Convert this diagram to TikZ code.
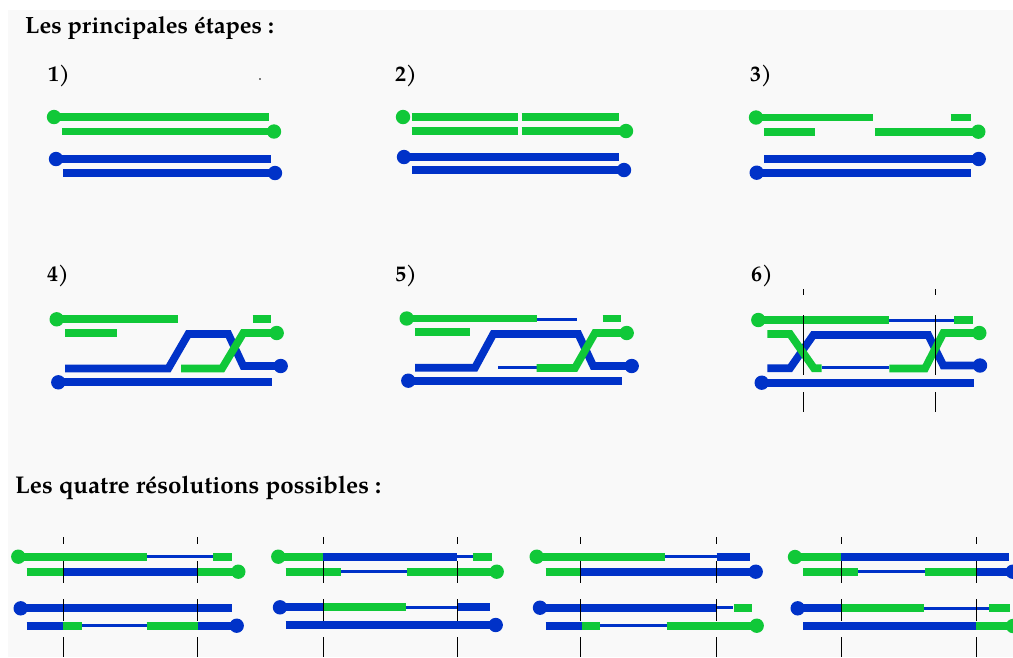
\documentclass[tikz,border=0pt]{standalone}
\usepackage{fontspec}
\setmainfont{TeX Gyre Pagella}
\definecolor{grn}{RGB}{16,200,56}
\definecolor{blu}{RGB}{0,50,200}
\definecolor{bg}{RGB}{249,249,249}
% strand end dots
\newcommand\GDot[1]{\fill[grn] (#1) circle (7.2pt);}
\newcommand\BDot[1]{\fill[blu] (#1) circle (7.2pt);}
% vertical cut marks of the final resolutions
\newcommand\CutMark[1]{%
  \draw[cut] (#1,537) -- (#1,544);
  \draw[cut] (#1,561) -- (#1,583);
  \draw[cut] (#1,599) -- (#1,621);
  \draw[cut] (#1,637) -- (#1,657);}
\begin{document}
\begin{tikzpicture}[x=1pt,y=-1pt,
  gs/.style={draw=grn,line width=7.7pt},
  bs/.style={draw=blu,line width=7.7pt},
  tb/.style={draw=blu,line width=3pt},
  cut/.style={draw=black,line width=0.9pt},
  title/.style={anchor=base west,inner sep=0pt,font=\fontsize{23.5}{28}\selectfont\bfseries},
  num/.style={anchor=base west,inner sep=0pt,font=\fontsize{22}{26}\selectfont\bfseries}]

\useasboundingbox (0,0) rectangle (1013,657);
\fill[white] (0,0) rectangle (1013,657);
\fill[bg] (8,10) rectangle (1013,657);

% titles and step numbers
\node[title] (t1) at (25,33.3) {Les principales étapes :};
\node[title,font=\fontsize{24.2}{29}\selectfont\bfseries] (t2) at (15,493.3) {Les quatre résolutions possibles :};
\node[num] (n1) at (48,81) {1)};
\node[num] (n2) at (395,81) {2)};
\node[num] (n3) at (750,81) {3)};
\node[num] (n4) at (47,281) {4)};
\node[num] (n5) at (395,281) {5)};
\node[num] (n6) at (751,281) {6)};
\fill[black] (260,79) circle (0.9pt);

% ---- step 1
\draw[gs] (54,117) -- (269,117); \GDot{54,117}
\draw[gs] (62,131.5) -- (274,131.5); \GDot{274,131.5}
\draw[bs] (56,159) -- (271,159); \BDot{56,159}
\draw[bs] (63,173) -- (275,173); \BDot{275,173}

% ---- step 2
\draw[gs] (411.7,117) -- (517.7,117);
\draw[gs] (521.7,117) -- (618.7,117); \GDot{403,117}
\draw[gs] (411.7,131) -- (517.7,131);
\draw[gs] (521.7,131) -- (626,131); \GDot{626,131}
\draw[bs] (404,157) -- (619,157); \BDot{404,157}
\draw[bs] (412,170) -- (624,170); \BDot{624,170}

% ---- step 3
\draw[gs] (756,117.5) -- (872.7,117.5); \GDot{756,117.5}
\draw[gs] (950.7,117.5) -- (971.3,117.5);
\draw[gs] (764.3,131.7) -- (815.3,131.7);
\draw[gs] (875,131.7) -- (978.3,131.7); \GDot{978.3,131.7}
\draw[bs] (764.3,159) -- (978.7,159); \BDot{978.7,159}
\draw[bs] (756.7,172.7) -- (971.3,172.7); \BDot{756.7,172.7}

% ---- step 4
\draw[gs] (56.7,319.3) -- (178.3,319.3); \GDot{56.7,319.3}
\draw[gs] (252.7,319.3) -- (271.3,319.3);
\draw[gs] (65,333) -- (116.7,333);
\draw[bs] (65,368.5) -- (168.3,368.5) -- (188.3,334) -- (228.3,334)
  -- (243.3,366) -- (280.7,366); \BDot{280.7,366}
\draw[gs] (181,368.5) -- (222,368.5) -- (243.3,333) -- (276.7,333); \GDot{276.7,333}
\draw[bs] (58.3,382.3) -- (272.3,382.3); \BDot{58.3,382.3}

% ---- step 5
\draw[gs] (406.7,318.5) -- (536.7,318.5); \GDot{406.7,318.5}
\draw[tb] (536.7,319) -- (576.7,319);
\draw[gs] (602.7,318.5) -- (621.3,318.5);
\draw[gs] (415,332) -- (470,332);
\draw[bs] (415,367.7) -- (475,367.7) -- (493.3,334) -- (578.3,334)
  -- (593.3,366) -- (631.7,366); \BDot{631.7,366}
\draw[tb] (498.3,367.7) -- (536.7,367.7);
\draw[gs] (536.7,368) -- (575,368) -- (595,333) -- (626.7,333); \GDot{626.7,333}
\draw[bs] (408.3,380.7) -- (622.3,380.7); \BDot{408.3,380.7}

% ---- step 6
\draw[gs] (758.3,320.3) -- (889.3,320.3); \GDot{758.3,320}
\draw[tb] (889.3,320.3) -- (954,320.3);
\draw[gs] (954,320.3) -- (973.3,320.3);
\draw[bs] (767.3,368.3) -- (790,368.3) -- (813.3,335) -- (928.3,335)
  -- (943.3,365.5) -- (980,365.5); \BDot{980,365.5}
\draw[gs] (767.3,334) -- (790,334) -- (814,368.3) -- (821.7,368.3);
\draw[tb] (821.7,367.7) -- (889.3,367.7);
\draw[gs] (889.3,368.5) -- (925,368.5) -- (943.3,333) -- (979.3,333); \GDot{979.3,333}
\draw[bs] (761.7,382.7) -- (974.3,382.7); \BDot{761.7,382.7}
\foreach \x in {803.3,935} {
  \draw[cut] (\x,289) -- (\x,295);
  \draw[cut] (\x,315) -- (\x,375);
  \draw[cut] (\x,392) -- (\x,412);}

% ---- resolution A
\draw[gs] (18.3,556.7) -- (146.7,556.7); \GDot{18.3,556.7}
\draw[tb] (146.7,556.7) -- (213.3,556.7);
\draw[gs] (213.3,556.7) -- (231.7,556.7);
\draw[gs] (26.7,571.7) -- (63.3,571.7);
\draw[bs] (63.3,571.7) -- (197.7,571.7);
\draw[gs] (197.7,571.7) -- (238.3,571.7); \GDot{238.3,571.7}
\draw[bs] (20.7,608.3) -- (231.7,608.3); \BDot{20.7,608.3}
\draw[bs] (26.7,625.7) -- (63.3,625.7);
\draw[gs] (63.3,625.7) -- (81.7,625.7);
\draw[tb] (81.7,625.7) -- (146.7,625.7);
\draw[gs] (146.7,625.7) -- (197.7,625.7);
\draw[bs] (197.7,625.7) -- (236.7,625.7); \BDot{236.7,625.7}
\CutMark{63.3} \CutMark{197.7}

% ---- resolution B
\draw[gs] (278.3,556.7) -- (323.3,556.7); \GDot{278.3,556.7}
\draw[bs] (323.3,556.7) -- (456.7,556.7);
\draw[tb] (456.7,556.7) -- (472.7,556.7);
\draw[gs] (472.7,556.7) -- (492.3,556.7);
\draw[gs] (285.7,571.7) -- (340.7,571.7);
\draw[tb] (340.7,571.7) -- (406.7,571.7);
\draw[gs] (406.7,571.7) -- (496.7,571.7); \GDot{496.7,571.7}
\draw[bs] (280,607.3) -- (323.3,607.3); \BDot{280,607.3}
\draw[gs] (323.3,607.3) -- (405.7,607.3);
\draw[tb] (405.7,607.3) -- (457.7,607.3);
\draw[bs] (457.7,607.3) -- (490,607.3);
\draw[bs] (285.7,625) -- (495.7,625); \BDot{495.7,625}
\CutMark{323.3} \CutMark{457.7}

% ---- resolution C
\draw[gs] (536.7,556.7) -- (665,556.7); \GDot{536.7,556.7}
\draw[tb] (665,556.7) -- (716.7,556.7);
\draw[bs] (716.7,556.7) -- (750,556.7);
\draw[gs] (545.7,571.7) -- (581,571.7);
\draw[bs] (581,571.7) -- (755.7,571.7); \BDot{755.7,571.7}
\draw[bs] (540,607.7) -- (716,607.7); \BDot{540,607.7}
\draw[tb] (716,607.7) -- (732.7,607.7);
\draw[gs] (734.3,607.7) -- (752.3,607.7);
\draw[bs] (545.7,625.7) -- (582,625.7);
\draw[gs] (582,625.7) -- (600,625.7);
\draw[tb] (600,625.7) -- (666.7,625.7);
\draw[gs] (666.7,625.7) -- (756.7,625.7); \GDot{756.7,625.7}
\CutMark{580.3} \CutMark{716}

% ---- resolution D
\draw[gs] (795,557) -- (841,557); \GDot{795,557}
\draw[bs] (841,557) -- (1009.3,557);
\draw[gs] (803.3,571.7) -- (858.3,571.7);
\draw[tb] (858.3,571.7) -- (925,571.7);
\draw[gs] (925,571.7) -- (976,571.7);
\draw[bs] (976,571.7) -- (1012.7,571.7); \BDot{1012.7,571.7}
\draw[bs] (797.7,608.3) -- (841,608.3); \BDot{797.7,608.3}
\draw[gs] (841,608.3) -- (924,608.3);
\draw[tb] (924,608.3) -- (989.3,608.3);
\draw[gs] (989.3,608.3) -- (1010,608.3);
\draw[bs] (803.3,626) -- (976,626);
\draw[gs] (976,626) -- (1013,626); \GDot{1013,626}
\CutMark{841} \CutMark{976}
\end{tikzpicture}
\end{document}
